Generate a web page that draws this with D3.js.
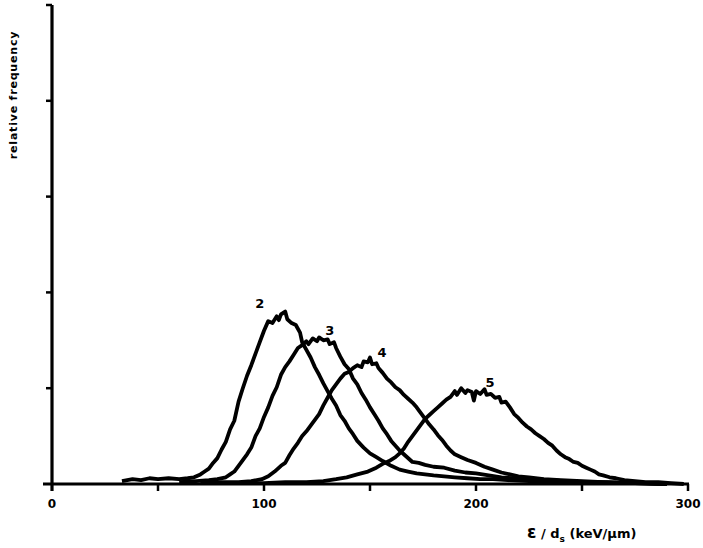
<!DOCTYPE html>
<html>
<head>
<meta charset="utf-8">
<script src="https://cdn.jsdelivr.net/npm/d3@7"></script>
<style>
  body { margin: 0; background: #fff; }
  svg { display: block; }
  text { font-family: "DejaVu Sans", sans-serif; font-weight: bold; fill: #000; }
</style>
</head>
<body>
<svg id="chart" width="703" height="548"></svg>
<script>
// values: [energy loss keV/um, relative frequency in tick units]
const curve2 = [
  [33, 0.03], [38, 0.05], [42, 0.04], [46, 0.06], [50, 0.05], [55, 0.06], [60, 0.05], [64, 0.06],
  [67, 0.07], [70, 0.10], [72, 0.13], [74, 0.16], [76, 0.22], [78, 0.27], [80, 0.36], [82, 0.44],
  [84, 0.57], [86, 0.66], [88, 0.86], [90, 1.00], [92, 1.13], [94, 1.24], [96, 1.36], [98, 1.48],
  [100, 1.60], [102, 1.70], [104, 1.68], [106, 1.75], [107, 1.71], [108, 1.77], [110, 1.80], [111, 1.72],
  [113, 1.68], [115, 1.66], [117, 1.58], [118, 1.48], [120, 1.40], [122, 1.32], [124, 1.22], [126, 1.14],
  [128, 1.05], [130, 0.97], [132, 0.89], [134, 0.82], [136, 0.72], [138, 0.66], [140, 0.58], [142, 0.52],
  [144, 0.45], [147, 0.38], [150, 0.32], [153, 0.28], [156, 0.24], [160, 0.19], [164, 0.15], [168, 0.13],
  [172, 0.11], [176, 0.10], [180, 0.09], [185, 0.08], [190, 0.07], [196, 0.06], [202, 0.05], [208, 0.05],
  [215, 0.04], [225, 0.03], [235, 0.03], [245, 0.02], [255, 0.02], [265, 0.01], [280, 0.01], [290, 0]
];
const curve3 = [
  [60, 0.02], [68, 0.03], [74, 0.04], [78, 0.05], [82, 0.07], [84, 0.10], [86, 0.13], [88, 0.19],
  [90, 0.25], [92, 0.31], [94, 0.38], [96, 0.50], [98, 0.58], [100, 0.70], [102, 0.80], [104, 0.92],
  [106, 1.01], [108, 1.14], [110, 1.22], [112, 1.28], [114, 1.35], [116, 1.42], [118, 1.45], [120, 1.49],
  [121, 1.46], [123, 1.52], [125, 1.49], [126, 1.53], [128, 1.50], [130, 1.51], [131, 1.46], [133, 1.48],
  [134, 1.42], [136, 1.33], [138, 1.25], [140, 1.20], [142, 1.10], [144, 1.04], [146, 0.95], [148, 0.88],
  [150, 0.80], [152, 0.73], [154, 0.66], [156, 0.58], [158, 0.52], [160, 0.45], [162, 0.40], [164, 0.35],
  [167, 0.29], [170, 0.23], [173, 0.22], [176, 0.20], [180, 0.18], [185, 0.17], [190, 0.14], [195, 0.12],
  [200, 0.11], [206, 0.09], [212, 0.07], [218, 0.06], [226, 0.05], [234, 0.04], [242, 0.03], [252, 0.02],
  [262, 0.02], [275, 0.01], [290, 0]
];
const curve4 = [
  [70, 0.01], [80, 0.02], [88, 0.02], [94, 0.03], [99, 0.05], [102, 0.08], [105, 0.13], [108, 0.19],
  [110, 0.22], [112, 0.30], [114, 0.37], [116, 0.43], [118, 0.50], [120, 0.55], [122, 0.61], [124, 0.67],
  [126, 0.73], [128, 0.82], [130, 0.90], [132, 0.98], [134, 1.04], [136, 1.10], [138, 1.15], [140, 1.17],
  [142, 1.21], [144, 1.24], [146, 1.22], [147, 1.28], [149, 1.27], [150, 1.32], [151, 1.25], [153, 1.26],
  [154, 1.21], [156, 1.16], [158, 1.10], [160, 1.06], [162, 1.01], [164, 0.98], [166, 0.93], [168, 0.89],
  [170, 0.85], [172, 0.80], [174, 0.74], [176, 0.68], [178, 0.62], [180, 0.57], [182, 0.51], [184, 0.46],
  [186, 0.40], [188, 0.35], [190, 0.31], [193, 0.28], [196, 0.25], [200, 0.22], [204, 0.18], [208, 0.15],
  [212, 0.12], [216, 0.10], [220, 0.08], [225, 0.07], [232, 0.05], [240, 0.04], [250, 0.03], [260, 0.02],
  [275, 0.01], [290, 0]
];
const curve5 = [
  [90, 0.01], [100, 0.01], [110, 0.02], [120, 0.02], [128, 0.03], [134, 0.05], [139, 0.07], [144, 0.10],
  [149, 0.13], [153, 0.17], [156, 0.21], [159, 0.24], [162, 0.28], [164, 0.32], [166, 0.37], [168, 0.44],
  [170, 0.50], [172, 0.56], [174, 0.62], [176, 0.68], [178, 0.72], [180, 0.76], [182, 0.80], [184, 0.84],
  [186, 0.88], [188, 0.91], [190, 0.97], [191, 0.93], [193, 1.00], [195, 0.95], [196, 0.98], [198, 0.96],
  [199, 0.87], [200, 0.97], [202, 0.94], [204, 0.99], [205, 0.93], [207, 0.94], [209, 0.90], [211, 0.91],
  [212, 0.85], [214, 0.86], [216, 0.80], [218, 0.73], [220, 0.69], [222, 0.64], [224, 0.60], [226, 0.57],
  [228, 0.53], [230, 0.50], [232, 0.47], [234, 0.43], [236, 0.40], [238, 0.35], [240, 0.31], [242, 0.28],
  [244, 0.26], [246, 0.23], [248, 0.22], [250, 0.19], [252, 0.17], [254, 0.15], [256, 0.13], [258, 0.10],
  [260, 0.09], [263, 0.07], [266, 0.06], [270, 0.04], [275, 0.03], [280, 0.02], [286, 0.02], [292, 0.01],
  [298, 0]
];
const curves = [curve2, curve3, curve4, curve5];
const curveNames = ["2", "3", "4", "5"];
const labelPos = [[98, 1.89], [131, 1.61], [155.7, 1.38], [206.6, 1.06]];

const xTicks = [0, 50, 100, 150, 200, 250, 300];
const xTickLabels = [0, 100, 200, 300];
const yTicks = [0, 1, 2, 3, 4, 5];

const svg = d3.select("#chart");

const x = d3.scaleLinear().domain([0, 300]).range([52, 688]);
const y = d3.scaleLinear().domain([0, 5]).range([484, 5]);

// axes
svg.append("line")
    .attr("x1", x(0)).attr("x2", x(0))
    .attr("y1", y(5)).attr("y2", y(0) + 7)
    .attr("stroke", "#000").attr("stroke-width", 3.2);
svg.append("line")
    .attr("x1", x(0) - 9).attr("x2", x(300) + 1)
    .attr("y1", y(0)).attr("y2", y(0))
    .attr("stroke", "#000").attr("stroke-width", 3.2);

svg.selectAll(".ytick")
    .data(yTicks.filter((d) => d > 0))
    .join("line")
    .attr("class", "ytick")
    .attr("x1", x(0) - 6).attr("x2", x(0))
    .attr("y1", (d) => y(d)).attr("y2", (d) => y(d))
    .attr("stroke", "#000").attr("stroke-width", 2.5);

svg.selectAll(".xtick")
    .data(xTicks.filter((d) => d > 0))
    .join("line")
    .attr("class", "xtick")
    .attr("x1", (d) => x(d)).attr("x2", (d) => x(d))
    .attr("y1", y(0)).attr("y2", y(0) + 7)
    .attr("stroke", "#000").attr("stroke-width", 2.5);

svg.selectAll(".xlabel")
    .data(xTickLabels)
    .join("text")
    .attr("class", "xlabel")
    .attr("x", (d) => x(d))
    .attr("y", y(0) + 24)
    .attr("text-anchor", "middle")
    .style("font-size", "12px")
    .text((d) => d);

// curves
const line = d3.line()
    .x((d) => x(d[0]))
    .y((d) => y(d[1]));

svg.selectAll(".curve")
    .data(curves)
    .join("path")
    .attr("class", "curve")
    .attr("d", line)
    .attr("fill", "none")
    .attr("stroke", "#000")
    .attr("stroke-width", 3.8)
    .attr("stroke-linejoin", "round");

svg.selectAll(".clabel")
    .data(curveNames)
    .join("text")
    .attr("class", "clabel")
    .attr("x", (d, i) => x(labelPos[i][0]))
    .attr("y", (d, i) => y(labelPos[i][1]) + 5)
    .attr("text-anchor", "middle")
    .style("font-size", "13px")
    .text((d) => d);

// axis titles
svg.append("text")
    .attr("transform", `translate(17, 95) rotate(-90)`)
    .attr("text-anchor", "middle")
    .style("font-size", "11px")
    .style("letter-spacing", "0.8px")
    .text("relative frequency");

const xt = svg.append("text")
    .attr("x", 527)
    .attr("y", 538)
    .style("font-size", "13px");
xt.append("tspan").style("font-size", "17px").text("ε");
xt.append("tspan").text(" / d");
xt.append("tspan").attr("dy", 4).style("font-size", "9px").text("s");
xt.append("tspan").attr("dy", -4).text(" (keV/μm)");
</script>
</body>
</html>
